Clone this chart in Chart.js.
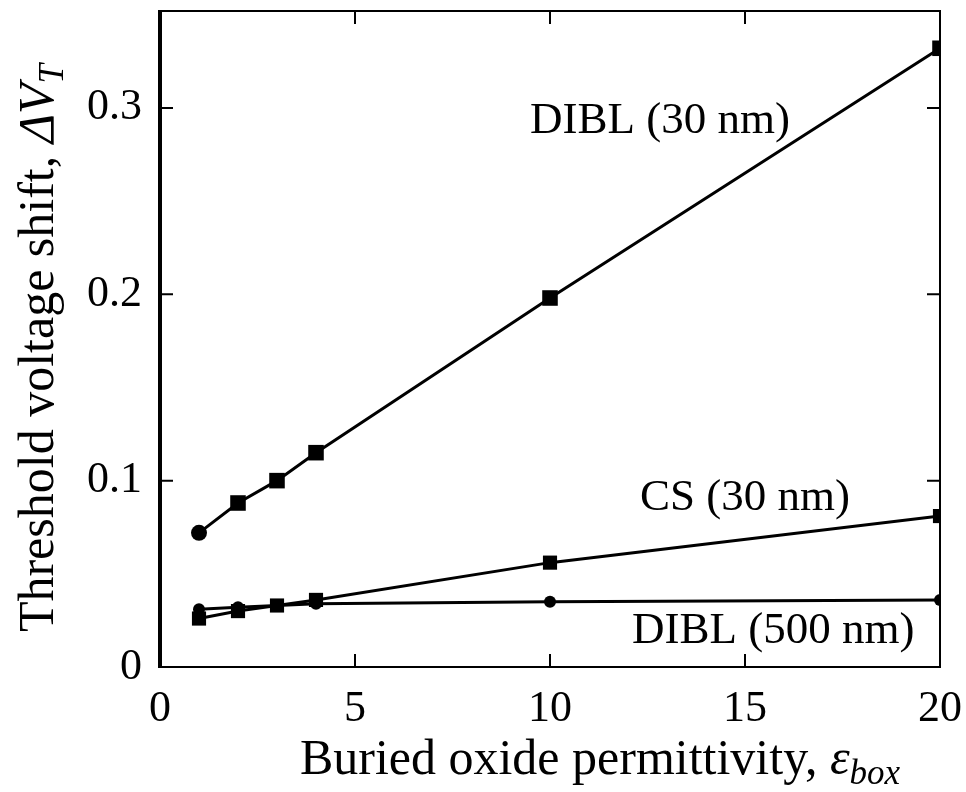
<!DOCTYPE html>
<html>
<head>
<meta charset="utf-8">
<script src="https://cdn.jsdelivr.net/npm/chart.js@4.4.1/dist/chart.umd.min.js"></script>
<style>
  html, body { margin: 0; padding: 0; background: #ffffff; }
</style>
</head>
<body>
<canvas id="shiftChart" width="966" height="792"></canvas>
<script>
// buried oxide permittivity (x) and threshold voltage shift (y)
const epsBox = [1, 2, 3, 4, 10, 20];
const diblShort = [0.072, 0.088, 0.100, 0.115, 0.198, 0.332]; // DIBL (30 nm)
const csShort = [0.026, 0.030, 0.033, 0.036, 0.056, 0.081];   // CS (30 nm)
const diblLong = [0.031, 0.032, 0.033, 0.034, 0.035, 0.036];  // DIBL (500 nm)
const xTicks = [0, 5, 10, 15, 20];
const yTicks = [0, 0.1, 0.2, 0.3];
const seriesLabels = ["DIBL (30 nm)", "CS (30 nm)", "DIBL (500 nm)"];

const SERIF = "'Liberation Serif', 'DejaVu Serif', serif";

function points(ys) {
  return epsBox.map((x, i) => ({ x: x, y: ys[i] }));
}

// draws a list of [text, italic, sub] pieces starting at x on a baseline
function richText(ctx, parts, x, y, size) {
  parts.forEach(p => {
    const fs = p[2] ? Math.round(size * 0.7) : size;
    ctx.font = (p[1] ? "italic " : "") + fs + "px " + SERIF;
    ctx.fillText(p[0], x, y + (p[2] ? size * 0.2 : 0));
    x += ctx.measureText(p[0]).width;
  });
}
function richWidth(ctx, parts, size) {
  let w = 0;
  parts.forEach(p => {
    const fs = p[2] ? Math.round(size * 0.7) : size;
    ctx.font = (p[1] ? "italic " : "") + fs + "px " + SERIF;
    w += ctx.measureText(p[0]).width;
  });
  return w;
}

const framePlugin = {
  id: "frame",
  beforeDatasetsDraw(chart) {
    const ctx = chart.ctx;
    const a = chart.chartArea;
    const xs = chart.scales.x, ys = chart.scales.y;
    ctx.save();
    ctx.strokeStyle = "#000";
    ctx.lineWidth = 2;
    ctx.strokeRect(a.left, a.top, a.right - a.left, a.bottom - a.top);
    ctx.lineWidth = 4;
    ctx.beginPath();
    ctx.moveTo(a.left, a.top - 1);
    ctx.lineTo(a.left, a.bottom + 1);
    ctx.stroke();
    // inward ticks on all four sides
    ctx.lineWidth = 2;
    const len = 13;
    ctx.beginPath();
    xTicks.forEach(v => {
      const px = xs.getPixelForValue(v);
      ctx.moveTo(px, a.bottom); ctx.lineTo(px, a.bottom - len);
      ctx.moveTo(px, a.top); ctx.lineTo(px, a.top + len);
    });
    yTicks.forEach(v => {
      const py = ys.getPixelForValue(v);
      ctx.moveTo(a.left, py); ctx.lineTo(a.left + len, py);
      ctx.moveTo(a.right, py); ctx.lineTo(a.right - len, py);
    });
    ctx.stroke();
    ctx.restore();
  },
  afterDraw(chart) {
    const ctx = chart.ctx;
    ctx.save();
    ctx.fillStyle = "#000";
    ctx.textBaseline = "alphabetic";
    ctx.textAlign = "left";

    // curve labels
    ctx.font = "45px " + SERIF;
    ctx.fillText(seriesLabels[0], 530, 133);
    ctx.fillText(seriesLabels[1], 640, 510);
    ctx.fillText(seriesLabels[2], 632, 643);

    // x axis title
    const size = 50;
    const xt = [["Buried oxide permittivity, ", false, false], ["\u03b5", true, false], ["box", true, true]];
    const wx = richWidth(ctx, xt, size);
    richText(ctx, xt, 600 - wx / 2, 774, size);

    // y axis title, rotated
    const yt = [["Threshold voltage shift, ", false, false], ["\u0394V", true, false], ["T", true, true]];
    const wy = richWidth(ctx, yt, size);
    ctx.translate(53, 348);
    ctx.rotate(-Math.PI / 2);
    richText(ctx, yt, -wy / 2, 0, size);
    ctx.restore();
  }
};

const shiftChart = new Chart(document.getElementById("shiftChart"), {
  type: "scatter",
  data: {
    datasets: [{
      label: seriesLabels[0],
      data: points(diblShort),
      showLine: true,
      borderColor: "#000",
      backgroundColor: "#000",
      borderWidth: 3,
      pointStyle: ["circle", "rect", "rect", "rect", "rect", "rect"],
      pointRadius: [8, 11, 11, 11, 11, 11],
      pointBorderWidth: 0
    }, {
      label: seriesLabels[1],
      data: points(csShort),
      showLine: true,
      borderColor: "#000",
      backgroundColor: "#000",
      borderWidth: 3,
      pointStyle: "rect",
      pointRadius: 10,
      pointBorderWidth: 0
    }, {
      label: seriesLabels[2],
      data: points(diblLong),
      showLine: true,
      borderColor: "#000",
      backgroundColor: "#000",
      borderWidth: 3,
      pointStyle: "circle",
      pointRadius: 6,
      pointBorderWidth: 0
    }]
  },
  options: {
    responsive: false,
    animation: false,
    devicePixelRatio: 1,
    layout: { padding: { top: 10, right: 26, left: 0, bottom: 0 } },
    plugins: { legend: { display: false }, tooltip: { enabled: false } },
    scales: {
      x: {
        type: "linear",
        min: 0,
        max: 20,
        grid: { display: false },
        border: { display: false },
        afterBuildTicks: s => { s.ticks = xTicks.map(v => ({ value: v })); },
        afterFit: s => { s.height = 125; s.paddingLeft = 0; s.paddingRight = 0; },
        ticks: { color: "#000", padding: 8, maxRotation: 0, font: { family: SERIF, size: 44 } }
      },
      y: {
        type: "linear",
        min: 0,
        max: 0.352,
        grid: { display: false },
        border: { display: false },
        afterBuildTicks: s => { s.ticks = yTicks.map(v => ({ value: v })); },
        afterFit: s => { s.width = 160; s.paddingTop = 0; s.paddingBottom = 0; },
        ticks: {
          color: "#000",
          padding: 10,
          font: { family: SERIF, size: 44 },
          callback: v => (v === 0 ? "0" : v.toFixed(1))
        }
      }
    }
  },
  plugins: [framePlugin]
});
</script>
</body>
</html>
